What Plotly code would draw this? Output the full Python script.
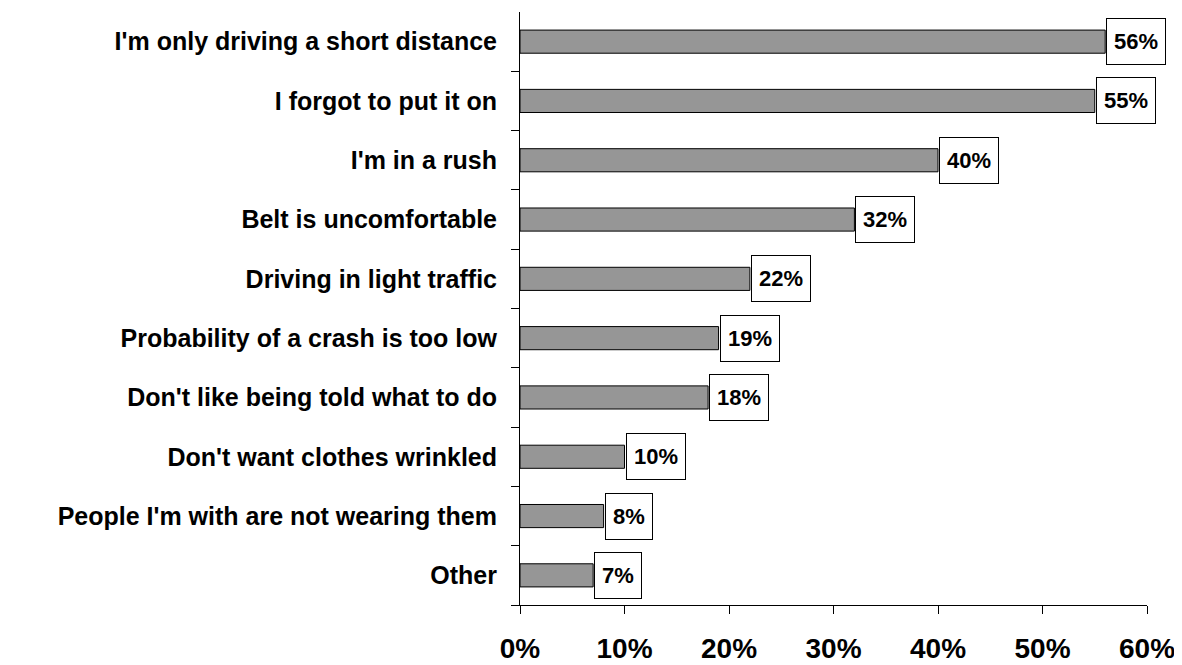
import plotly.graph_objects as go

# reasons for not wearing a seat belt (share of respondents, %)
reasons = [
    "I'm only driving a short distance",
    "I forgot to put it on",
    "I'm in a rush",
    "Belt is uncomfortable",
    "Driving in light traffic",
    "Probability of a crash is too low",
    "Don't like being told what to do",
    "Don't want clothes wrinkled",
    "People I'm with are not wearing them",
    "Other",
]
shares = [56, 55, 40, 32, 22, 19, 18, 10, 8, 7]
x_ticks = [0, 10, 20, 30, 40, 50, 60]
x_tick_labels = ["0%", "10%", "20%", "30%", "40%", "50%", "60%"]

FONT = "Liberation Sans, Arial, sans-serif"

fig = go.Figure()

fig.add_trace(go.Bar(
    x=shares,
    y=reasons,
    orientation="h",
    marker=dict(color="#969696", line=dict(color="black", width=1)),
    hoverinfo="skip",
))

# boxed value labels just after each bar end
for r, v in zip(reasons, shares):
    label = f"{v}%"
    fig.add_annotation(
        x=v, y=r, xref="x", yref="y",
        text=f"<b>{label}</b>",
        showarrow=False,
        xanchor="left", yanchor="middle",
        xshift=1,
        font=dict(family=FONT, size=22, color="black"),
        bgcolor="white",
        bordercolor="black",
        borderwidth=1,
        borderpad=1,
        width=12 * len(label) + 20,
        height=43,
    )

# page body has an 8px margin, so the figure is a bit smaller than the window
fig.update_layout(
    width=1174,
    height=657,
    margin=dict(l=512, r=35, t=4, b=60, autoexpand=False),
    plot_bgcolor="white",
    paper_bgcolor="white",
    showlegend=False,
    bargap=0.61,
    font=dict(family=FONT, color="black"),
)

fig.update_xaxes(
    range=[0, 60],
    tickvals=x_ticks,
    ticktext=[f"<b>{t}</b>" for t in x_tick_labels],
    tickfont=dict(family=FONT, size=28, color="black"),
    ticks="outside",
    ticklen=8,
    tickcolor="black",
    ticklabelstandoff=10,
    showline=True,
    linecolor="black",
    linewidth=1,
    showgrid=False,
    zeroline=False,
    automargin=False,
    fixedrange=True,
)

fig.update_yaxes(
    categoryorder="array",
    categoryarray=reasons[::-1],
    tickvals=reasons,
    ticktext=[f"<b>{r}</b>" for r in reasons],
    tickfont=dict(family=FONT, size=25, color="black"),
    ticks="outside",
    tickson="boundaries",
    ticklen=8,
    tickcolor="black",
    ticklabelstandoff=17,
    showline=True,
    linecolor="black",
    linewidth=1,
    showgrid=False,
    zeroline=False,
    automargin=False,
    fixedrange=True,
)

fig.write_html("out.html")
